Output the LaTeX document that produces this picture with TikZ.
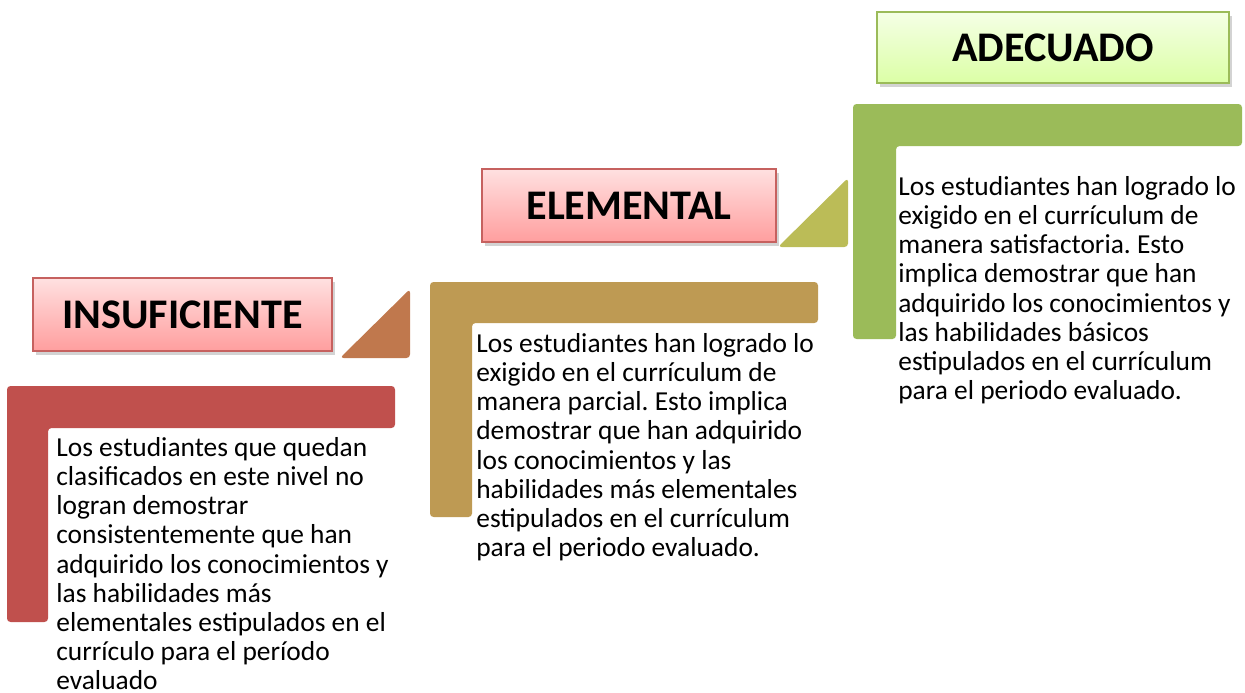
\documentclass[tikz,border=0pt]{standalone}
\usepackage{fontspec}
\setmainfont{Carlito}
\usetikzlibrary{positioning,shadows}

\definecolor{barred}{HTML}{C0504D}
\definecolor{bartan}{HTML}{BE9A53}
\definecolor{bargreen}{HTML}{9BBB59}
\definecolor{tribrown}{HTML}{C0784D}
\definecolor{triolive}{HTML}{BBBC57}
\frenchspacing

\begin{document}
\begin{tikzpicture}[
    x=0.02cm, y=-0.02cm,
    levelbar/.style={fill=#1, draw=none, rounded corners=2pt},
    stair/.style={fill=#1, draw=none, rounded corners=2pt},
    redtitle/.style={rectangle, draw=barred!90, line width=0.8pt, top color=red!12, bottom color=red!38,
        drop shadow={opacity=0.35, shadow xshift=1.5pt, shadow yshift=-2pt},
        font=\fontsize{24}{28}\selectfont\bfseries, inner sep=0pt},
    greentitle/.style={redtitle, draw=bargreen, top color=green!40!yellow!10, bottom color=green!40!yellow!35},
    desc/.style={anchor=north west, align=left, inner sep=0pt, font=\fontsize{15.6}{16.6}\selectfont}
]
\useasboundingbox (0,0) rectangle (1245,693);

% bars
\path[levelbar=barred] (7,386) -- (395,386) -- (395,428) -- (48,428) -- (48,622) -- (7,622) -- cycle;
\path[levelbar=bartan] (430,282) -- (818,282) -- (818,323) -- (472,323) -- (472,517) -- (430,517) -- cycle;
\path[levelbar=bargreen] (853,104) -- (1242,104) -- (1242,146) -- (896,146) -- (896,339) -- (853,339) -- cycle;

% steps
\path[stair=tribrown] (340,358) -- (410,358) -- (410,289) -- cycle;
\path[stair=triolive] (778,247) -- (848,247) -- (848,178) -- cycle;

% titles
\node[redtitle, minimum width=5.98cm, minimum height=1.46cm] (insuf) at (182.5,314.5) {INSUFICIENTE};
\node[redtitle, minimum width=5.88cm, minimum height=1.46cm] (elem) at (629,205.5) {ELEMENTAL};
\node[greentitle, minimum width=7.04cm, minimum height=1.42cm] (adec) at (1053,47.5) {ADECUADO};

% texts
\node[desc] (insuftext) at (56,437) {Los estudiantes que quedan\\clasificados en este nivel no\\logran demostrar\\consistentemente que han\\adquirido los conocimientos y\\las habilidades más\\elementales estipulados en el\\currículo para el período\\evaluado};
\node[desc] (elemtext) at (476,333) {Los estudiantes han logrado lo\\exigido en el currículum de\\manera parcial. Esto implica\\demostrar que han adquirido\\los conocimientos y las\\habilidades más elementales\\estipulados en el currículum\\para el periodo evaluado.};
\node[desc] (adectext) at (898,176) {Los estudiantes han logrado lo\\exigido en el currículum de\\manera satisfactoria. Esto\\implica demostrar que han\\adquirido los conocimientos y\\las habilidades básicos\\estipulados en el currículum\\para el periodo evaluado.};
\end{tikzpicture}
\end{document}
